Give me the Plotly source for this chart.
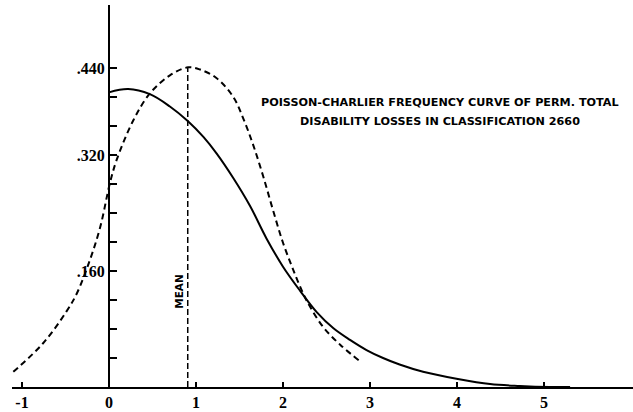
import plotly.graph_objects as go

# --- data ---
dashed_x = [-1.10, -0.76, -0.49, -0.37, -0.22, -0.10, 0.01, 0.09, 0.28, 0.47, 0.70,
            0.91, 1.046, 1.238, 1.429, 1.545, 1.66, 1.774, 1.89, 2.0, 2.12, 2.235,
            2.31, 2.46, 2.66, 2.89]
dashed_y = [0.021, 0.060, 0.104, 0.129, 0.175, 0.221, 0.281, 0.314, 0.368, 0.405, 0.430,
            0.441, 0.438, 0.426, 0.400, 0.370, 0.333, 0.290, 0.242, 0.199, 0.161, 0.128,
            0.111, 0.083, 0.058, 0.035]

solid_x = [0.0, 0.22, 0.47, 0.70, 0.905, 1.085, 1.238, 1.43, 1.62, 1.81, 2.0, 2.195,
           2.39, 2.58, 2.77, 2.96, 3.15, 3.34, 3.61, 4.01, 4.38, 4.72, 5.07, 5.3]
solid_y = [0.4065, 0.411, 0.404, 0.387, 0.367, 0.345, 0.322, 0.288, 0.250, 0.205, 0.166,
           0.133, 0.103, 0.081, 0.065, 0.051, 0.040, 0.031, 0.021, 0.011, 0.004, 0.0014,
           0.0, 0.0]

mean_x = 0.905
mean_top = 0.4405

x_ticks = [-1, 0, 1, 2, 3, 4, 5]
x_labels = ["-1", "0", "1", "2", "3", "4", "5"]
y_ticks = [0.04, 0.08, 0.12, 0.16, 0.20, 0.24, 0.28, 0.32, 0.36, 0.40, 0.44]
y_labels = ["", "", "", ".160", "", "", "", ".320", "", "", ".440"]

title_lines = ["POISSON-CHARLIER FREQUENCY CURVE OF PERM. TOTAL",
               "DISABILITY LOSSES IN CLASSIFICATION 2660"]

XMIN, XMAX = -1.115, 6.023
YMIN, YMAX = 0.0, 0.527

fig = go.Figure()
fig.add_trace(go.Scatter(x=dashed_x, y=dashed_y, mode="lines",
                         line=dict(color="black", width=2, dash="6px,4px", shape="spline"),
                         showlegend=False, hoverinfo="skip"))
fig.add_trace(go.Scatter(x=solid_x, y=solid_y, mode="lines",
                         line=dict(color="black", width=2, shape="spline"),
                         showlegend=False, hoverinfo="skip"))
fig.add_trace(go.Scatter(x=[mean_x, mean_x], y=[0, mean_top], mode="lines",
                         line=dict(color="black", width=1.5, dash="6px,3px"),
                         showlegend=False, hoverinfo="skip"))

fig.add_annotation(x=0.81, y=0.132, text="<b>MEAN</b>", textangle=-90, showarrow=False,
                   font=dict(family="DejaVu Sans", size=10.5, color="black"))
fig.add_annotation(x=3.81, y=0.392, text="<b>" + title_lines[0] + "</b>", showarrow=False,
                   font=dict(family="DejaVu Sans", size=11.2, color="black"))
fig.add_annotation(x=3.81, y=0.366, text="<b>" + title_lines[1] + "</b>", showarrow=False,
                   font=dict(family="DejaVu Sans", size=11.2, color="black"))

ypos = (0 - XMIN) / (XMAX - XMIN)
fig.update_layout(
    width=633, height=412,
    margin=dict(l=12, r=0, t=5, b=25),
    paper_bgcolor="white", plot_bgcolor="white",
    xaxis=dict(range=[XMIN, XMAX], showgrid=False, zeroline=False, showline=True,
               linecolor="black", linewidth=2, ticks="inside", ticklen=5, tickwidth=1.5,
               tickcolor="black", tickvals=x_ticks, ticktext=x_labels,
               tickfont=dict(family="Liberation Serif", size=16, color="black", weight="bold")),
    yaxis=dict(range=[YMIN, YMAX], showgrid=False, zeroline=False, showline=True,
               linecolor="black", linewidth=2, anchor="free", position=ypos,
               ticks="inside", ticklen=7, tickwidth=1.5, tickcolor="black",
               tickvals=y_ticks, ticktext=y_labels,
               tickfont=dict(family="Liberation Serif", size=16, color="black", weight="bold")),
)

fig.write_html("out.html", config={"displayModeBar": False},
               post_script="document.body.style.margin='0';")
